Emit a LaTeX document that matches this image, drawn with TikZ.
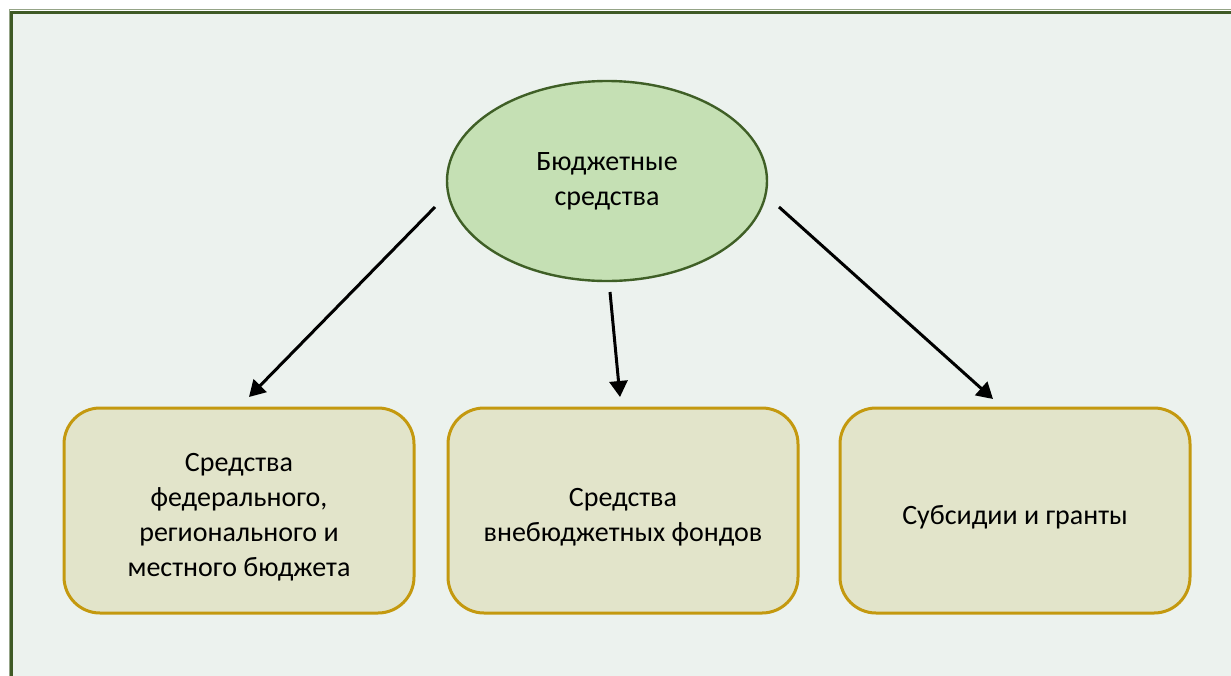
\documentclass[tikz,border=0pt]{standalone}
\usepackage{fontspec}
\setmainfont{Carlito}
\usetikzlibrary{arrows.meta,shapes.geometric}
\definecolor{bgc}{HTML}{ECF2EE}
\definecolor{framec}{HTML}{3F5A25}
\definecolor{ellfill}{HTML}{C5E0B4}
\definecolor{ellline}{HTML}{3F5F26}
\definecolor{boxfill}{HTML}{E2E4CA}
\definecolor{boxline}{HTML}{C4990F}
\newcommand{\boxlines}[1]{\raisebox{-6.5pt}[\height][\depth]{\begin{tabular}{@{}c@{}}#1\end{tabular}}}
\tikzset{
  ell/.style={draw=ellline, line width=2.4pt, fill=ellfill, ellipse, minimum width=320pt, minimum height=200pt, inner sep=0pt, align=center, font=\fontsize{28}{35}\selectfont},
  boxn/.style={draw=boxline, line width=3pt, fill=boxfill, rounded corners=36pt, minimum width=350pt, minimum height=205pt, inner sep=0pt, font=\fontsize{28}{35}\selectfont},
  arr/.style={draw=black, line width=3pt, -{Triangle[length=16pt,width=18pt]}}
}
\begin{document}
\begin{tikzpicture}[x=1pt,y=-1pt]
\useasboundingbox (0,0) rectangle (1231,675);
\clip (0,0) rectangle (1231,675);
\fill[white] (0,0) rectangle (1231,675);
\fill[bgc] (10,11) rectangle (1260,700);
\draw[framec!55, line width=1pt] (9,700) -- (9,9.5) -- (1260,9.5);
\draw[framec, line width=3pt] (11.5,700) -- (11.5,12) -- (1260,12);
\node[ell] (e) at (607,181) {Бюджетные\\средства};
\node[boxn] (b1) at (239,510.5) {\boxlines{Средства\\федерального,\\регионального и\\местного бюджета}};
\node[boxn] (b2) at (623,510.5) {\boxlines{Средства\\внебюджетных фондов}};
\node[boxn] (b3) at (1015,510.5) {\boxlines{Субсидии и гранты}};
\coordinate (s1) at (435,207);
\coordinate (t1) at (249,397);
\coordinate (s2) at (610,292);
\coordinate (t2) at (620,397);
\coordinate (s3) at (779,207);
\coordinate (t3) at (993,399);
\draw[arr] (s1) -- (t1);
\draw[arr] (s2) -- (t2);
\draw[arr] (s3) -- (t3);
\end{tikzpicture}
\end{document}
